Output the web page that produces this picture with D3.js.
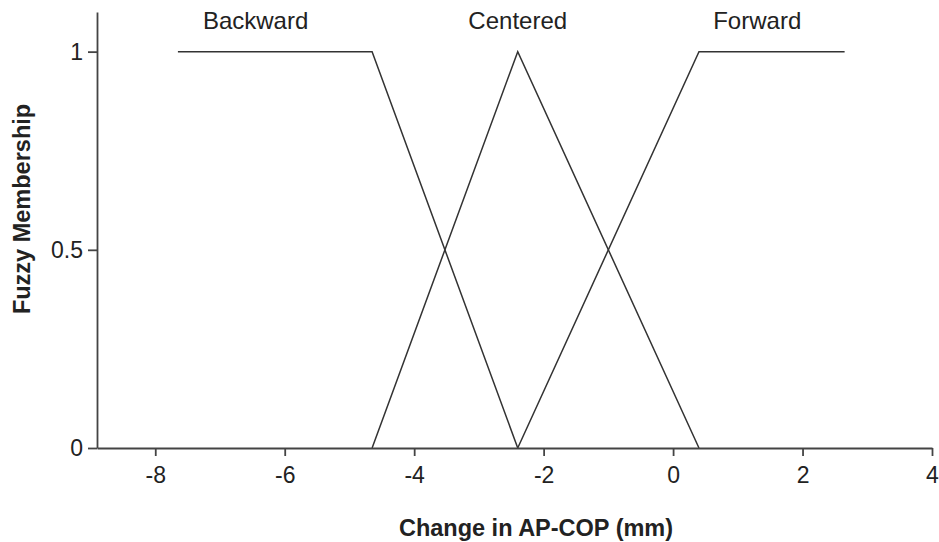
<html>
<head>
    <meta charset="utf-8">
    <title>Fuzzy Membership</title>
    <style>
        body {
            padding: 0;
            margin: 0;
            background: white;
            font-family: "Liberation Sans", Arial, sans-serif;
        }

        .domain, .tick line {
            stroke: #444;
            stroke-width: 1.8;
        }

        .tick text {
            font-size: 23px;
            fill: #222;
        }

        .membership {
            fill: none;
            stroke: #333;
            stroke-width: 1.5;
        }

        .set-label {
            font-size: 24px;
            fill: #222;
        }

        .axis-title {
            font-size: 23.5px;
            font-weight: bold;
            fill: #222;
        }
    </style>
</head>
<body>
    <div id="chart"></div>

    <script src="https://d3js.org/d3.v7.min.js"></script>
    <script>
        // membership functions, [change in AP-COP (mm), membership]
        var backward = [[-7.65, 1], [-4.65, 1], [-2.4, 0]],
            centered = [[-4.65, 0], [-2.4, 1], [0.4, 0]],
            forward = [[-2.4, 0], [0.4, 1], [2.65, 1]];

        var setNames = ["Backward", "Centered", "Forward"],
            labelX = [-6.45, -2.4, 1.3],
            labelY = 1.058;

        var xTicks = [-8, -6, -4, -2, 0, 2, 4],
            yTicks = [0, 0.5, 1];

        var width = 939,
            height = 542,
            margin = { top: 12, right: 7, bottom: 94, left: 97 };

        var svg = d3.select("#chart")
            .append("svg")
            .attr("width", width)
            .attr("height", height);

        var x = d3.scaleLinear()
            .domain([-8.9, 4])
            .range([margin.left, width - margin.right]);

        var y = d3.scaleLinear()
            .domain([0, 1.1])
            .range([height - margin.bottom, margin.top]);

        var line = d3.line()
            .x(function (d) { return x(d[0]); })
            .y(function (d) { return y(d[1]); });

        svg.append("g")
            .selectAll("path")
            .data([backward, centered, forward])
            .enter()
            .append("path")
            .attr("class", "membership")
            .attr("d", line);

        // plain hyphen for negatives, like the original
        var plain = function (d) { return String(d); };

        svg.append("g")
            .attr("transform", "translate(0," + y(0) + ")")
            .call(d3.axisBottom(x)
                .tickValues(xTicks)
                .tickFormat(plain)
                .tickSize(8)
                .tickSizeOuter(0)
                .tickPadding(11));

        svg.append("g")
            .attr("transform", "translate(" + x.range()[0] + ",0)")
            .call(d3.axisLeft(y)
                .tickValues(yTicks)
                .tickFormat(plain)
                .tickSize(9)
                .tickSizeOuter(0)
                .tickPadding(5));

        svg.append("g")
            .selectAll("text")
            .data(setNames)
            .enter()
            .append("text")
            .attr("class", "set-label")
            .attr("text-anchor", "middle")
            .attr("x", function (d, i) { return x(labelX[i]); })
            .attr("y", y(labelY))
            .text(function (d) { return d; });

        svg.append("text")
            .attr("class", "axis-title")
            .attr("text-anchor", "middle")
            .attr("x", 536)
            .attr("y", 536)
            .text("Change in AP-COP (mm)");

        svg.append("text")
            .attr("class", "axis-title")
            .attr("text-anchor", "middle")
            .attr("transform", "translate(30,209) rotate(-90)")
            .text("Fuzzy Membership");
    </script>
</body>
</html>
